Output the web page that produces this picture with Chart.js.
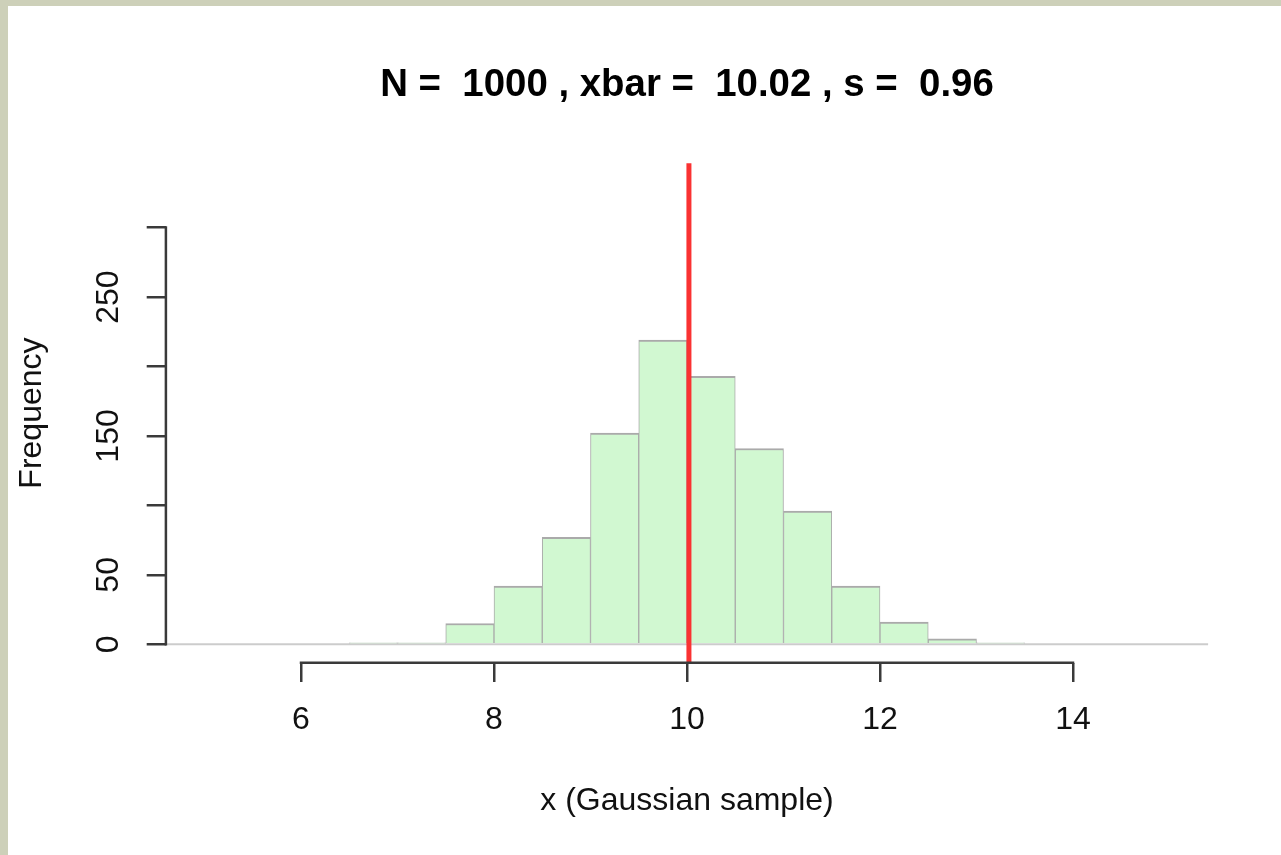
<!DOCTYPE html>
<html>
<head>
<meta charset="utf-8">
<title>Histogram of a Gaussian sample</title>
<script src="https://cdn.jsdelivr.net/npm/chart.js@4.4.1/dist/chart.umd.min.js"></script>
<style>
  html, body { margin: 0; padding: 0; width: 1281px; height: 855px; overflow: hidden; background: #cdd0b9; }
  #frame { position: absolute; left: 8px; top: 6px; width: 1273px; height: 849px; background: #ffffff; }
  #hist { display: block; }
</style>
</head>
<body>
<div id="frame"><canvas id="hist"></canvas></div>
<script>
// Histogram bins (width 0.5) and their counts
const binEdges = [5, 5.5, 6, 6.5, 7, 7.5, 8, 8.5, 9, 9.5, 10, 10.5, 11, 11.5, 12, 12.5, 13, 13.5, 14, 14.5, 15];
const counts   = [0, 0, 0, 1, 1, 15, 42, 77, 152, 219, 193, 141, 96, 42, 16, 4, 1, 0, 0, 0];

// Sample summary shown in the title and as the mean line
const sampleN = 1000;
const xbar = 10.02;
const sd = 0.96;

// Axis limits and ticks
const xLimits = [5, 15];
const yLimits = [0, 333];
const xTicks = [6, 8, 10, 12, 14];
const yTicks = [0, 50, 100, 150, 200, 250, 300];
const yLabelled = [0, 50, 150, 250];

const FONT = '"Liberation Sans", Arial, Helvetica, sans-serif';
const BASE = 32;

// 4% range expansion on both axes
function expand([lo, hi]) { const d = (hi - lo) * 0.04; return [lo - d, hi + d]; }
const [xMin, xMax] = expand(xLimits);
const [yMin, yMax] = expand(yLimits);

const barData = counts.map((c, i) => ({ x: (binEdges[i] + binEdges[i + 1]) / 2, y: c }));

const AXIS_COLOR = '#3a3a3a';
const AXIS_WIDTH = 2.5;

const overlay = {
  id: 'overlay',
  beforeDatasetsDraw(chart) {
    const { ctx, chartArea: a, scales: { y } } = chart;
    const py = y.getPixelForValue(0);
    ctx.save();
    ctx.strokeStyle = '#cccccc';
    ctx.lineWidth = 2;
    ctx.beginPath();
    ctx.moveTo(a.left, py);
    ctx.lineTo(a.right, py);
    ctx.stroke();
    ctx.restore();
  },
  afterDatasetsDraw(chart) {
    const { ctx, chartArea: a, scales: { x } } = chart;
    const px = x.getPixelForValue(xbar);
    ctx.save();
    ctx.strokeStyle = '#fa3232';
    ctx.lineWidth = 5;
    ctx.beginPath();
    ctx.moveTo(px, a.top);
    ctx.lineTo(px, a.bottom);
    ctx.stroke();
    ctx.restore();
  },
  afterDraw(chart) {
    const { ctx, chartArea: a, scales: { x, y } } = chart;
    ctx.save();
    ctx.strokeStyle = AXIS_COLOR;
    ctx.lineWidth = AXIS_WIDTH;
    ctx.lineCap = 'square';
    ctx.beginPath();
    ctx.moveTo(x.getPixelForValue(xTicks[0]), a.bottom);
    ctx.lineTo(x.getPixelForValue(xTicks[xTicks.length - 1]), a.bottom);
    ctx.moveTo(a.left, y.getPixelForValue(yTicks[0]));
    ctx.lineTo(a.left, y.getPixelForValue(yTicks[yTicks.length - 1]));
    ctx.stroke();
    ctx.restore();
  }
};

const tickGrid = {
  offset: false,
  drawOnChartArea: false,
  drawTicks: true,
  tickLength: 19.2,
  color: AXIS_COLOR,
  lineWidth: AXIS_WIDTH
};

new Chart(document.getElementById('hist'), {
  type: 'bar',
  data: {
    datasets: [{
      data: barData,
      backgroundColor: '#d1f8d1',
      borderColor: '#aaaaaa',
      borderWidth: { top: 2, left: 1, right: 1, bottom: 0 },
      barPercentage: 1,
      categoryPercentage: 1
    }]
  },
  options: {
    responsive: true,
    maintainAspectRatio: false,
    devicePixelRatio: 1,
    animation: false,
    events: [],
    layout: { padding: { left: 0, top: 0, bottom: 0, right: 72.9 } },
    plugins: {
      legend: { display: false },
      tooltip: { enabled: false },
      title: {
        display: true,
        text: `N =  ${sampleN} , xbar =  ${xbar.toFixed(2)} , s =  ${sd.toFixed(2)}`,
        fullSize: false,
        align: 'center',
        color: '#000000',
        font: { family: FONT, size: BASE * 1.2, weight: 'bold', lineHeight: 1.2 },
        padding: { top: 56.2, bottom: 55.0 }
      }
    },
    scales: {
      x: {
        type: 'linear',
        offset: false,
        min: xMin,
        max: xMax,
        afterBuildTicks: s => { s.ticks = xTicks.map(v => ({ value: v })); },
        afterFit: s => { s.height = 192.2; },
        border: { display: false },
        grid: tickGrid,
        ticks: {
          color: '#111111',
          font: { family: FONT, size: BASE },
          padding: 18.8,
          autoSkip: false,
          maxRotation: 0,
          callback: v => String(v)
        },
        title: {
          display: true,
          text: 'x (Gaussian sample)',
          color: '#111111',
          font: { family: FONT, size: BASE },
          padding: { top: 0, bottom: 34.8 }
        }
      },
      y: {
        type: 'linear',
        offset: false,
        min: yMin,
        max: yMax,
        afterBuildTicks: s => { s.ticks = yTicks.map(v => ({ value: v })); },
        afterFit: s => { s.width = 157.9; },
        border: { display: false },
        grid: tickGrid,
        ticks: {
          color: '#111111',
          font: { family: FONT, size: BASE },
          minRotation: 90,
          maxRotation: 90,
          crossAlign: 'center',
          padding: 11,
          autoSkip: false,
          callback: v => (yLabelled.includes(v) ? String(v) : '')
        },
        title: {
          display: true,
          text: 'Frequency',
          color: '#111111',
          font: { family: FONT, size: BASE },
          padding: { top: 5, bottom: 0 }
        }
      }
    }
  },
  plugins: [overlay]
});
</script>
</body>
</html>
